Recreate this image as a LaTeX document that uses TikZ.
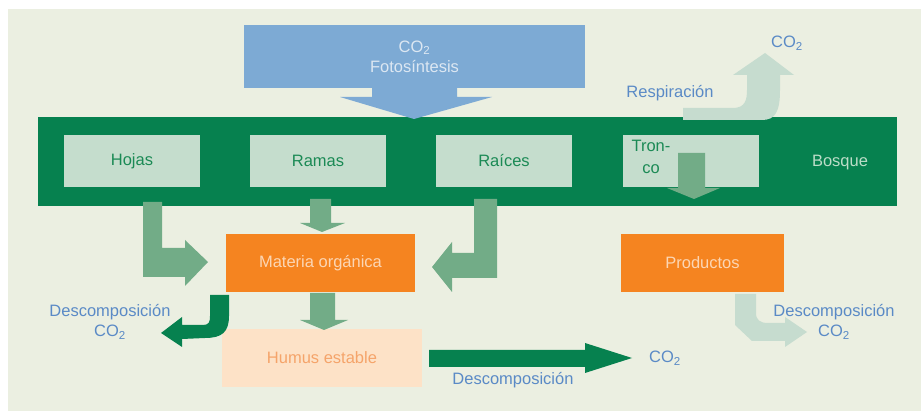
\documentclass[tikz,border=0pt]{standalone}
\usepackage{fontspec}
\setmainfont{Liberation Sans}
\definecolor{panel}{HTML}{EBEFE1}
\definecolor{band}{HTML}{06814F}
\definecolor{leafbox}{HTML}{C5DDCD}
\definecolor{leaftext}{HTML}{1B8A55}
\definecolor{bosquetext}{HTML}{BCDDC8}
\definecolor{sky}{HTML}{7DAAD4}
\definecolor{skytext}{HTML}{DCE7F2}
\definecolor{midgreen}{HTML}{72AC87}
\definecolor{palegreen}{HTML}{C6DCCF}
\definecolor{orange}{HTML}{F58420}
\definecolor{orangetext}{HTML}{FCD6B4}
\definecolor{humusbox}{HTML}{FDE2C7}
\definecolor{humustext}{HTML}{F5A46A}
\definecolor{labelblue}{HTML}{5A8AC6}
\tikzset{
  carbon cycle/.style={
    x=1pt, y=-1pt,
    every node/.style={font=\fontsize{16.5}{20}\selectfont, inner sep=0pt},
  },
  leaf box/.style={fill=leafbox, text=leaftext, minimum width=136pt, minimum height=52pt},
  orange box/.style={fill=orange, text=orangetext, minimum height=58pt},
  flow label/.style={text=labelblue, align=center},
}
\newcommand{\cotwo}{CO\textsubscript{2}}

\begin{document}
\begin{tikzpicture}[
  carbon cycle,
]
\useasboundingbox (0,0) rectangle (921,411);
\fill[panel] (8,9) rectangle (921,411);

% forest band
\fill[band] (38,117) rectangle (897,206);
\node [text=bosquetext] (bosque) at (840,163) {Bosque};

% photosynthesis
\node [fill=sky, text=skytext, align=center, minimum width=341pt, minimum height=63pt]
  (foto) at (414.5,56.5) {\cotwo\\Fotosíntesis};
\fill[sky] (372,88) -- (457,88) -- (457,97) -- (492,97) -- (414,119)
  -- (340,97) -- (372,97) -- cycle;

% parts of the forest
\node [leaf box] (hojas) at (132,161) {Hojas};
\node [leaf box] (ramas) at (318,161) {Ramas};
\node [leaf box] (raices) at (504,161) {Raíces};
\node [leaf box] (tronco) at (690.5,161) {};
\node [text=leaftext, align=center, font=\fontsize{16.5}{22}\selectfont]
  (troncotxt) at (651,157) {Tron-\\co};
\fill[midgreen] (678,153) -- (705,153) -- (705,188) -- (720,188) -- (694,199)
  -- (667,188) -- (678,188) -- cycle;

% respiration
\fill[palegreen] (683,108) -- (733,108) .. controls (745,108) and (747,100) .. (747,90)
  -- (747,75) -- (733,75) -- (765,53) -- (794,75) -- (780,75) -- (780,90)
  .. controls (780,112) and (775,120) .. (762,120) -- (683,120) -- cycle;
\node [flow label] (resp) at (670,93) {Respiración};
\node [flow label] (resp co2) at (787,43) {\cotwo};

% litter
\node [orange box, minimum width=189pt] (materia) at (320.5,263) {Materia orgánica};
\node [orange box, minimum width=163pt] (productos) at (702.5,263) {Productos};
\node [fill=humusbox, text=humustext, minimum width=200pt, minimum height=58pt]
  (humus) at (322,358) {Humus estable};

\fill[midgreen] (143,202) -- (162,202) -- (162,248) -- (185,248) -- (185,240)
  -- (208,262) -- (185,286) -- (185,277) -- (143,277) -- cycle;
\fill[midgreen] (310,199) -- (331,199) -- (331,223) -- (345,223) -- (322,232)
  -- (300,223) -- (310,223) -- cycle;
\fill[midgreen] (474,199) -- (497,199) -- (497,278) -- (452,278) -- (452,292)
  -- (432,267) -- (452,242) -- (452,253) -- (474,253) -- cycle;
\fill[midgreen] (310,293) -- (335,293) -- (335,320) -- (348,320) -- (324,330)
  -- (300,320) -- (310,320) -- cycle;

% decomposition
\fill[band] (210,295) -- (229,295) -- (229,316) .. controls (229,332) and (222,338) .. (205,338)
  -- (182,339) -- (182,347) -- (161,333) -- (182,317) -- (182,325) -- (203,325)
  .. controls (209,325) and (210,322) .. (210,316) -- cycle;
\node [flow label] (desc left) at (110,322) {Descomposición\\\cotwo};

\fill[band] (429,350) -- (585,350) -- (585,343) -- (632,358) -- (585,373)
  -- (585,367) -- (429,367) -- cycle;
\node [flow label] (desc humus) at (513,380) {Descomposición};
\node [flow label] (humus co2) at (665,358) {\cotwo};

\fill[palegreen] (735,294) -- (756,294) -- (756,313) .. controls (756,320) and (760,323) .. (768,323)
  -- (785,323) -- (785,317) -- (807,332) -- (785,347) -- (785,341) -- (752,341)
  -- (735,325) -- cycle;
\node [flow label] (desc right) at (834,322) {Descomposición\\\cotwo};
\end{tikzpicture}
\end{document}
